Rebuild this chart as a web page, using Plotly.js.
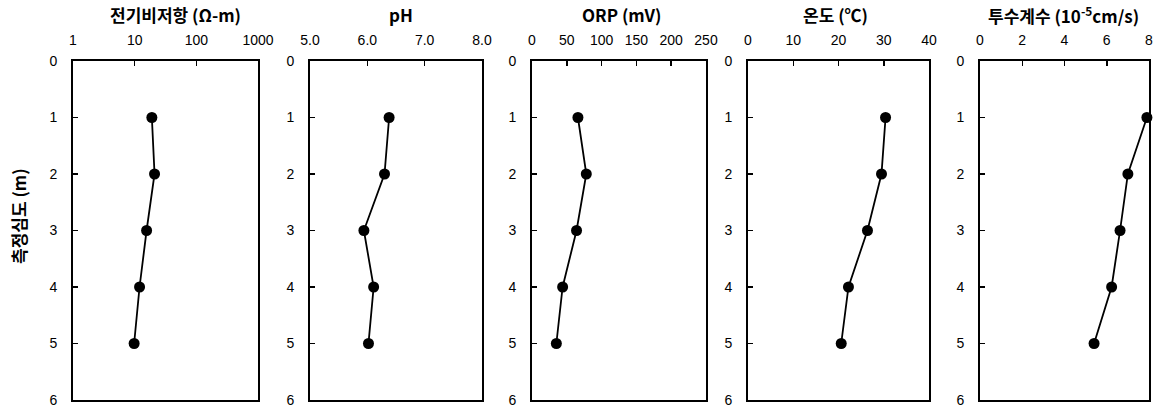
<!DOCTYPE html>
<html>
<head>
<meta charset="utf-8">
<script src="https://cdn.plot.ly/plotly-3.0.1.min.js"></script>
<style>html,body{margin:0;padding:0;background:#fff;}#chart{width:1160px;height:412px;}</style>
</head>
<body>
<div id="chart"></div>
<script>
// Depths (m)
const depth = [1, 2, 3, 4, 5];
// Series values
const resistivity = [19, 21, 15.6, 12, 9.8];     // Ω-m (log scale)
const ph = [6.38, 6.30, 5.94, 6.11, 6.02];
const orp = [66, 78, 64, 44, 35];               // mV
const temperature = [30.4, 29.5, 26.4, 22.2, 20.6]; // °C
const permeability = [7.9, 7.0, 6.63, 6.23, 5.4];   // 10^-5 cm/s

// Titles and tick labels
const panelTitles = ['전기비저항 (Ω-m)', 'pH', 'ORP (mV)', '온도 (℃)', '투수계수 (10<sup>-5</sup>cm/s)'];
const yTitle = '측정심도 (m)';
const depthTicks = [0, 1, 2, 3, 4, 5, 6];
const resTicks = [1, 10, 100, 1000];
const phTicks = [5, 6, 7, 8];
const phTickText = ['5.0', '6.0', '7.0', '8.0'];
const orpTicks = [0, 50, 100, 150, 200, 250];
const tempTicks = [0, 10, 20, 30, 40];
const permTicks = [0, 2, 4, 6, 8];

const W = 1160, H = 412;
const panelsPx = [[73, 258], [310, 482], [532, 706], [748, 929], [980, 1149]];
const titleCenters = [175, 401, 621, 835, 1063];
const yTop = 61, yBot = 400;
const yDomain = [1 - yBot / H, 1 - yTop / H];

const series = [resistivity, ph, orp, temperature, permeability];
const traces = series.map((vals, i) => ({
  x: vals, y: depth,
  xaxis: i === 0 ? 'x' : 'x' + (i + 1),
  yaxis: i === 0 ? 'y' : 'y' + (i + 1),
  mode: 'lines+markers',
  line: {color: '#000', width: 1.8},
  marker: {color: '#000', size: 11},
  showlegend: false,
  cliponaxis: false,
  hoverinfo: 'x+y'
}));

const tickFont = {family: 'Liberation Sans, Arial, sans-serif', size: 14, color: '#000'};
const titleFont = {family: 'Noto Sans CJK KR, Liberation Sans, sans-serif', size: 17, color: '#000'};
const layout = {
  width: W, height: H,
  margin: {l: 0, r: 0, t: 0, b: 0},
  paper_bgcolor: '#fff', plot_bgcolor: '#fff',
  showlegend: false,
  annotations: [],
  font: tickFont
};

const xConf = [
  {type: 'log', range: [0, 3], tickvals: resTicks, ticktext: ['1', '10', '100', '1000']},
  {range: [5, 8], tickvals: phTicks, ticktext: phTickText},
  {range: [0, 250], tickvals: orpTicks},
  {range: [0, 40], tickvals: tempTicks},
  {range: [0, 8], tickvals: permTicks}
];

panelsPx.forEach((px, i) => {
  const k = i === 0 ? '' : String(i + 1);
  layout['xaxis' + k] = Object.assign({
    domain: [px[0] / W, px[1] / W],
    anchor: 'y' + k,
    side: 'top',
    tickmode: 'array',
    ticks: 'inside', ticklen: 5, tickwidth: 1.5, tickcolor: '#000',
    showline: true, linecolor: '#000', linewidth: 2, mirror: true,
    showgrid: false, zeroline: false,
    tickfont: tickFont,
    ticklabelstandoff: 8,
    fixedrange: true
  }, xConf[i]);
  layout['yaxis' + k] = {
    domain: yDomain,
    anchor: 'x' + k,
    range: [6, 0],
    tickmode: 'array', tickvals: depthTicks,
    ticks: 'inside', ticklen: 5, tickwidth: 1.5, tickcolor: '#000',
    showline: true, linecolor: '#000', linewidth: 2, mirror: true,
    showgrid: false, zeroline: false,
    tickfont: tickFont,
    ticklabelstandoff: 11,
    fixedrange: true
  };
  layout.annotations.push({
    text: '<b>' + panelTitles[i] + '</b>',
    xref: 'paper', yref: 'paper',
    x: titleCenters[i] / W, y: 1 - 15 / H,
    xanchor: 'center', yanchor: 'middle',
    showarrow: false,
    font: titleFont
  });
});

layout.annotations.push({
  text: '<b>' + yTitle + '</b>',
  xref: 'paper', yref: 'paper',
  x: 18 / W, y: 1 - 216 / H,
  xanchor: 'center', yanchor: 'middle',
  textangle: -90,
  showarrow: false,
  font: titleFont
});

Plotly.newPlot('chart', traces, layout, {displayModeBar: false, staticPlot: true});
</script>
</body>
</html>
